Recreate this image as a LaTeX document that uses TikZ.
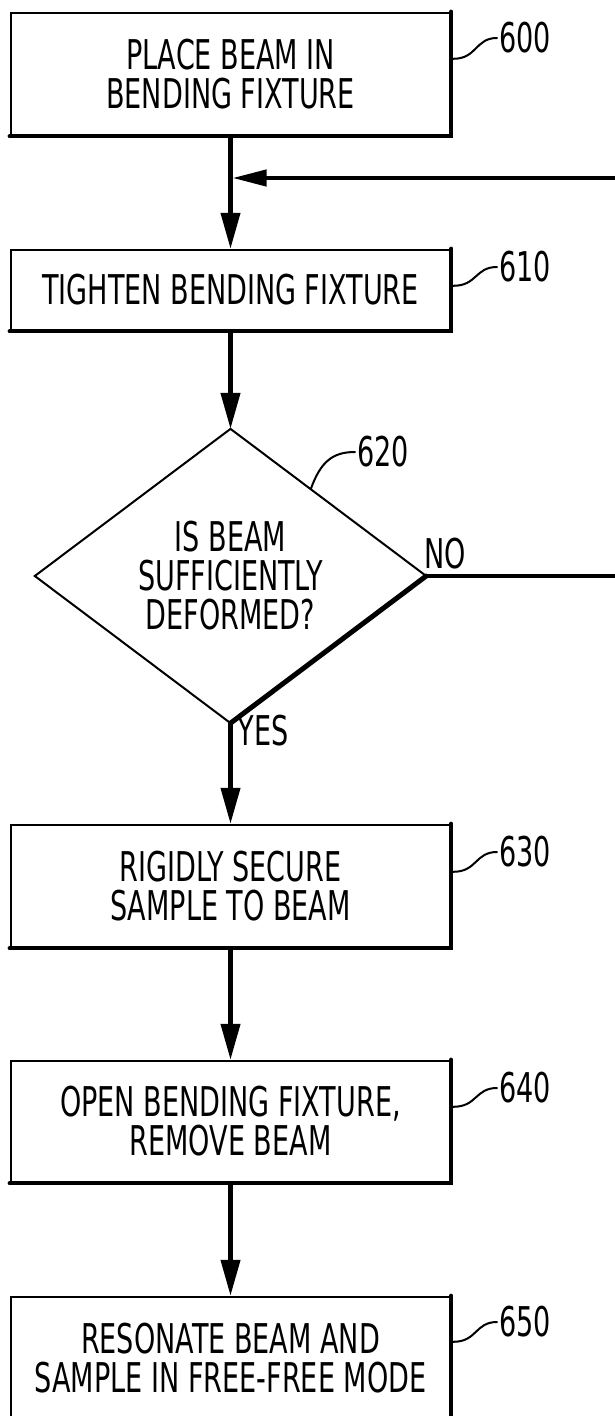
\documentclass[tikz,border=0pt]{standalone}
\usepackage{fontspec}
\setmainfont{DejaVu Sans}[FakeStretch=0.66]
\usetikzlibrary{arrows.meta,shapes.geometric,calc}
\begin{document}
\begin{tikzpicture}[x=1pt,y=-1pt,
  txt/.style={font=\fontsize{41}{39}\selectfont,align=center},
  stepbox/.style={txt,draw,line width=2.4pt,minimum width=439pt,inner sep=0pt},
  shade/.style={line width=4.4pt,line cap=round},
  flow/.style={line width=4.2pt,-{Triangle[length=36pt,width=19pt]}},
  lbl/.style={txt,anchor=west,inner sep=2pt},
  leader/.style={line width=2pt,line cap=round}
]
\useasboundingbox (0,0) rectangle (615,1416);

% boxes
\node[stepbox,minimum height=122pt] (b600) at (230.5,74) {PLACE BEAM IN\\BENDING FIXTURE};
\node[stepbox,minimum height=80pt] (b610) at (230.5,290) {TIGHTEN BENDING FIXTURE};
\node[txt,diamond,draw=none,minimum width=391pt,minimum height=259pt,inner sep=0pt] (d) at (230.5,576) {IS BEAM\\SUFFICIENTLY\\DEFORMED?};
\node[stepbox,minimum height=122pt] (b630) at (230.5,886) {RIGIDLY SECURE\\SAMPLE TO BEAM};
\node[stepbox,minimum height=121pt] (b640) at (230.5,1121.5) {OPEN BENDING FIXTURE,\\REMOVE BEAM};
\node[stepbox,minimum height=122pt] (b650) at (230.5,1358) {RESONATE BEAM AND\\SAMPLE IN FREE-FREE MODE};

% shade lines (thick right and bottom edges)
\foreach \b in {b600,b610,b630,b640,b650}{
  \draw[shade] (\b.north east) -- (\b.south east) -- (\b.south west);
}

% diamond
\draw[line width=2pt,line join=miter] (d.east) -- (d.north) -- (d.west) -- (d.south);
\draw[line width=5pt,line cap=round] (d.south) -- (d.east);

% reference labels
\node[lbl] (l600) at (497,38) {600};
\node[lbl] (l610) at (497,267) {610};
\node[lbl] (l620) at (355,452) {620};
\node[lbl] (l630) at (497,852) {630};
\node[lbl] (l640) at (497,1088) {640};
\node[lbl] (l650) at (497,1322) {650};
\node[txt,inner sep=0pt] (no) at (445,554) {NO};
\node[txt,inner sep=0pt] (yes) at (263,731) {YES};

\draw[leader] ($(b600.north east)+(2,47)$) .. controls +(24,0) and +(-22,0) .. (l600.west);
\draw[leader] ($(b610.north east)+(2,37)$) .. controls +(24,0) and +(-22,0) .. (l610.west);
\draw[leader] ($(b630.north east)+(2,48)$) .. controls +(24,0) and +(-22,0) .. (l630.west);
\draw[leader] ($(b640.north east)+(2,47)$) .. controls +(24,0) and +(-22,0) .. (l640.west);
\draw[leader] ($(b650.north east)+(2,46)$) .. controls +(24,0) and +(-22,0) .. (l650.west);
\draw[leader] ($(d.north)!0.41!(d.east)$) .. controls +(10,-28) and +(-22,0) .. (l620.west);

% connectors
\coordinate (fbin) at (615,178);
\coordinate (fbjoin) at (232.5,178);
\coordinate (noend) at (615,576);
\draw[flow] (b600.south) -- (b610.north);
\draw[line width=4.2pt,-{Triangle[length=34pt,width=16pt]}] (fbin) -- (fbjoin);
\draw[flow] (b610.south) -- (d.north);
\draw[line width=4pt] (d.east) -- (noend);
\draw[flow] (d.south) -- (b630.north);
\draw[flow] (b630.south) -- (b640.north);
\draw[flow] (b640.south) -- (b650.north);
\end{tikzpicture}
\end{document}
